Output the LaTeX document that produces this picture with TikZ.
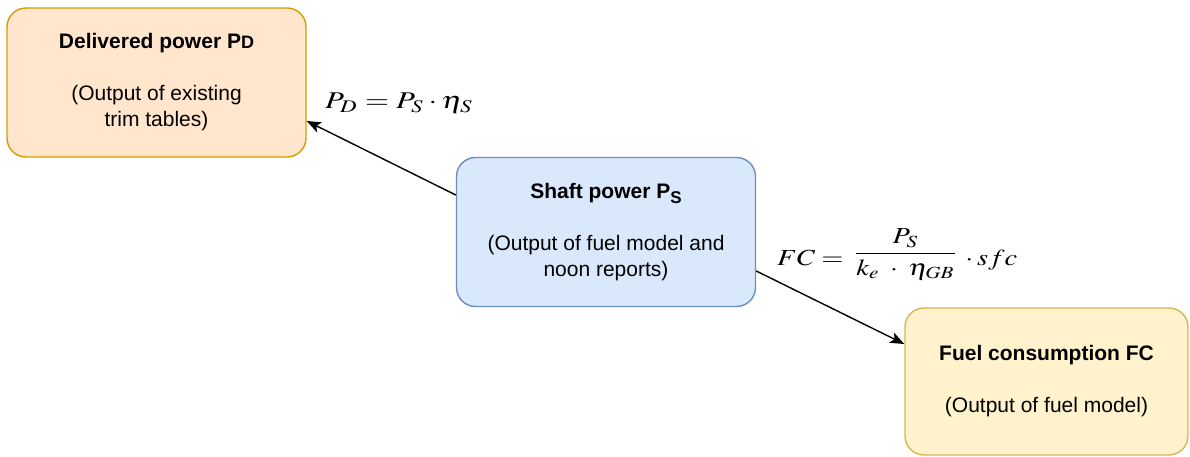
\documentclass[tikz,border=0pt]{standalone}
\usepackage{mathptmx}
\usepackage{fontspec}
\setmainfont{Liberation Sans}
\usetikzlibrary{arrows.meta}

\definecolor{orangefill}{HTML}{FFE6CC}
\definecolor{orangeline}{HTML}{D79B00}
\definecolor{bluefill}{HTML}{DAE8FC}
\definecolor{blueline}{HTML}{6C8EBF}
\definecolor{yellowfill}{HTML}{FFF2CC}
\definecolor{yellowline}{HTML}{D6B656}

\tikzset{
  box/.style={draw, rounded corners=19pt, line width=1.4pt, align=center,
    minimum width=299pt, minimum height=149pt, inner sep=0pt,
    font=\fontsize{21}{26}\selectfont},
  formula/.style={inner sep=0pt, font=\fontsize{10}{12}\selectfont},
  link/.style={draw, line width=1.4pt,
    -{Stealth[length=14pt, width=11pt, inset=3pt]}}
}

\begin{document}
\begin{tikzpicture}[x=1pt, y=-1pt]
  \useasboundingbox (0,0) rectangle (1190,457);

  % the three quantities
  \node[box, fill=orangefill, draw=orangeline] (pd) at (156.5,82.5)
    {\textbf{Delivered power P{\fontsize{18}{18}\selectfont D}}\\[26pt]
     (Output of existing\\ trim tables)};
  \node[box, fill=bluefill, draw=blueline] (ps) at (606,232)
    {\textbf{Shaft power P\raisebox{-5pt}{\fontsize{17}{17}\selectfont S}}\\[26pt]
     (Output of fuel model and\\ noon reports)};
  \node[box, fill=yellowfill, draw=yellowline, minimum width=283pt,
        minimum height=147pt] (fc) at (1046.5,381.5)
    {\textbf{Fuel consumption FC}\\[26pt] (Output of fuel model)};

  % relations between them: set at 10pt, then widened and enlarged
  \node[formula, anchor=base west] (eqpd) at (325,108.5)
    {\resizebox{148pt}{2.4\height}{$P_D = P_S\cdot\eta_S$}};
  \node[formula, anchor=base west] (eqfc) at (777,265)
    {\resizebox{240pt}{2.3\height}{$FC = \,\raisebox{2.5pt}{$\displaystyle
      \frac{P_S}{k_e\;\cdot\;\eta_{GB}}$}\,\cdot sfc$}};

  % connector end points along the box edges
  \coordinate (s1) at (455,195);
  \coordinate (t1) at (308,121);
  \coordinate (s2) at (755,271);
  \coordinate (t2) at (904,344);

  \draw[link] (ps.west |- s1) -- (pd.east |- t1);
  \draw[link] (ps.east |- s2) -- (fc.west |- t2);
\end{tikzpicture}
\end{document}
